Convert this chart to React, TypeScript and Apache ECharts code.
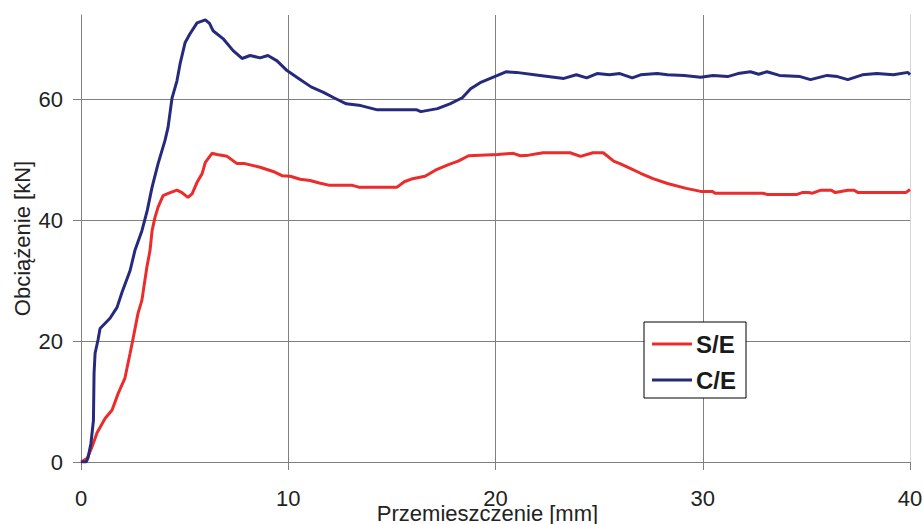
import React, { useEffect, useRef } from "react";
import * as echarts from "echarts";

// Displacement [mm] / load [kN] samples for each specimen
const seX = [0, 0.3, 0.53, 0.77, 1.16, 1.5, 1.8, 2.12, 2.37, 2.5, 2.75, 2.94, 3.18, 3.33, 3.43, 3.57, 3.72, 3.96, 4.3, 4.63, 4.87, 5.16, 5.36, 5.6, 5.84, 6.0, 6.32, 6.56, 7.05, 7.53, 7.9, 8.64, 9.27, 9.7, 10.1, 10.57, 11.05, 11.5, 12.0, 13.1, 13.4, 15.25, 15.6, 16.0, 16.6, 17.1, 17.7, 18.2, 18.7, 20.1, 20.85, 21.2, 21.6, 22.15, 22.3, 23.6, 24.1, 24.7, 25.2, 25.7, 26.0, 26.5, 27.0, 27.6, 28.3, 29.2, 29.9, 30.45, 30.6, 32.9, 33.1, 34.55, 34.8, 35.1, 35.3, 35.7, 36.2, 36.4, 37.0, 37.3, 37.5, 39.8, 40];
const seY = [0, 0.6, 2.5, 4.8, 7.2, 8.6, 11.4, 13.9, 18.0, 20.2, 24.6, 26.8, 32.3, 35.0, 38.3, 40.5, 42.2, 44.1, 44.6, 45.0, 44.6, 43.8, 44.4, 46.3, 47.7, 49.6, 51.1, 50.9, 50.6, 49.4, 49.4, 48.8, 48.1, 47.4, 47.3, 46.8, 46.6, 46.2, 45.8, 45.8, 45.5, 45.5, 46.4, 46.9, 47.3, 48.3, 49.2, 49.8, 50.7, 50.9, 51.1, 50.7, 50.8, 51.1, 51.2, 51.2, 50.6, 51.2, 51.2, 49.8, 49.4, 48.6, 47.8, 46.9, 46.1, 45.3, 44.8, 44.8, 44.5, 44.5, 44.3, 44.3, 44.6, 44.6, 44.5, 45.0, 45.0, 44.6, 45.0, 45.0, 44.6, 44.6, 45.1];

const ceX = [0, 0.25, 0.34, 0.48, 0.6, 0.63, 0.68, 0.82, 0.92, 1.4, 1.74, 1.98, 2.37, 2.6, 2.94, 3.2, 3.43, 3.72, 4.05, 4.2, 4.39, 4.63, 4.78, 5.02, 5.26, 5.6, 6.0, 6.2, 6.37, 6.85, 7.34, 7.77, 8.16, 8.64, 9.02, 9.46, 9.94, 10.5, 11.1, 11.7, 12.2, 12.8, 13.5, 14.3, 16.2, 16.4, 17.2, 17.8, 18.4, 18.8, 19.26, 20.1, 20.5, 21.0, 22.15, 23.3, 23.9, 24.4, 24.9, 25.5, 26.0, 26.6, 27.0, 27.8, 28.3, 29.1, 29.9, 30.5, 31.2, 31.7, 32.3, 32.7, 33.1, 33.7, 34.7, 35.2, 36.0, 36.5, 37.0, 37.7, 38.4, 39.2, 39.9, 40];
const ceY = [0, 0, 0.7, 3.1, 6.9, 14.7, 18.0, 20.2, 22.1, 23.8, 25.6, 28.1, 31.7, 35.0, 38.3, 41.7, 45.5, 49.4, 53.2, 55.4, 60.2, 63.1, 65.9, 69.4, 70.9, 72.7, 73.2, 72.6, 71.4, 70.1, 68.1, 66.8, 67.3, 66.9, 67.3, 66.4, 64.8, 63.5, 62.1, 61.2, 60.3, 59.3, 59.0, 58.3, 58.3, 58.0, 58.5, 59.3, 60.3, 61.8, 62.8, 64.0, 64.6, 64.5, 64.0, 63.5, 64.1, 63.6, 64.3, 64.1, 64.3, 63.6, 64.1, 64.3, 64.1, 64.0, 63.7, 64.0, 63.8, 64.3, 64.6, 64.2, 64.6, 64.0, 63.8, 63.3, 64.0, 63.8, 63.3, 64.1, 64.3, 64.1, 64.5, 64.1];

const seriesNames = ["S/E", "C/E"];
const xTitle = "Przemieszczenie [mm]";
const yTitle = "Obciążenie [kN]";

const zip = (xs: number[], ys: number[]) => xs.map((x, i) => [x, ys[i]]);

const FONT = 'Arial, "Liberation Sans", sans-serif';
const GRID = "#808080";

export default function App() {
  const ref = useRef<HTMLDivElement>(null);

  useEffect(() => {
    if (!ref.current) return;
    const chart = echarts.init(ref.current, undefined, { renderer: "svg" });
    chart.setOption({
      animation: false,
      backgroundColor: "#ffffff",
      textStyle: { fontFamily: FONT },
      grid: { left: 81, right: 13, top: 15, bottom: 62, containLabel: false, outerBoundsMode: "none" },
      legend: {
        orient: "vertical",
        left: 644,
        top: 322,
        data: seriesNames,
        icon: "rect",
        itemWidth: 40,
        itemHeight: 3,
        itemGap: 12,
        padding: [10, 10, 6, 8],
        borderColor: "#000000",
        borderWidth: 1,
        backgroundColor: "#ffffff",
        textStyle: { fontFamily: FONT, fontSize: 24, fontWeight: "bold", color: "#1a1a1a", padding: [0, 0, 0, -1] },
      },
      xAxis: {
        type: "value",
        min: 0,
        max: 40,
        interval: 10,
        name: xTitle,
        nameLocation: "middle",
        nameGap: 40,
        nameMoveOverlap: false,
        nameTextStyle: { fontFamily: FONT, fontSize: 22, color: "#222", padding: [0, 16, 0, 0] },
        axisLine: { show: true, lineStyle: { color: GRID, width: 1 } },
        axisTick: { show: true, inside: false, length: 8, lineStyle: { color: GRID } },
        axisLabel: { fontFamily: FONT, fontSize: 22, color: "#222", margin: 25 },
        splitLine: { show: true, showMinLine: false, showMaxLine: false, lineStyle: { color: GRID, width: 1 } },
      },
      yAxis: [
        {
          type: "value",
          min: 0,
          max: 74,
          interval: 20,
          name: yTitle,
          nameLocation: "middle",
          nameGap: 48,
          nameMoveOverlap: false,
          nameTextStyle: { fontFamily: FONT, fontSize: 22, color: "#222" },
          axisLine: { show: true, lineStyle: { color: GRID, width: 1 } },
          axisTick: { show: true, inside: false, length: 8, lineStyle: { color: GRID } },
          axisLabel: { fontFamily: FONT, fontSize: 22, color: "#222", margin: 18, showMaxLabel: false },
          splitLine: { show: true, showMinLine: false, showMaxLine: false, lineStyle: { color: GRID, width: 1 } },
        },
        {
          type: "value",
          position: "right",
          min: 0,
          max: 74,
          axisLine: { show: true, lineStyle: { color: "#d6d6d6", width: 1 } },
          axisTick: { show: false },
          axisLabel: { show: false },
          splitLine: { show: false },
        },
      ],
      series: [
        {
          name: seriesNames[0],
          type: "line",
          data: zip(seX, seY),
          showSymbol: false,
          symbol: "none",
          lineStyle: { color: "#ec2b2b", width: 3 },
          itemStyle: { color: "#ec2b2b" },
          z: 3,
        },
        {
          name: seriesNames[1],
          type: "line",
          data: zip(ceX, ceY),
          showSymbol: false,
          symbol: "none",
          lineStyle: { color: "#262a7c", width: 3 },
          itemStyle: { color: "#262a7c" },
          z: 4,
        },
      ],
    });
    return () => chart.dispose();
  }, []);

  return (
    <div
      ref={ref}
      style={{ position: "fixed", left: 0, top: 0, width: 923, height: 524, background: "#fff" }}
    />
  );
}
